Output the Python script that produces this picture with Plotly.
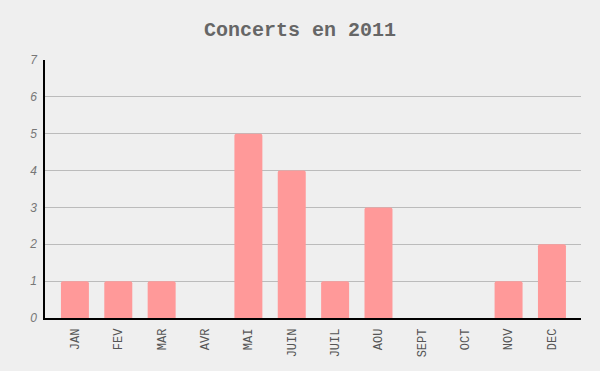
import plotly.graph_objects as go

months = ["JAN", "FEV", "MAR", "AVR", "MAI", "JUIN", "JUIL", "AOU", "SEPT", "OCT", "NOV", "DEC"]
concerts = [1, 1, 1, 0, 5, 4, 1, 3, 0, 0, 1, 2]
y_ticks = [0, 1, 2, 3, 4, 5, 6, 7]

fig = go.Figure()
fig.add_trace(go.Bar(
    x=list(range(len(months))),
    y=concerts,
    marker=dict(color="#ff9999", line=dict(width=0), cornerradius=2),
    width=0.645,
    hoverinfo="x+y",
))

fig.update_layout(
    width=600, height=371,
    paper_bgcolor="#efefef", plot_bgcolor="#efefef",
    margin=dict(l=45, r=19, t=60, b=53),
    title=dict(text="<b>Concerts en 2011</b>", x=0.5, xanchor="center", y=0.922, yanchor="middle",
               font=dict(family="Liberation Mono", size=20, color="#666")),
    showlegend=False,
    xaxis=dict(
        tickmode="array", tickvals=list(range(len(months))), ticktext=months,
        range=[-0.69, 11.67], tickangle=-90,
        tickfont=dict(family="Liberation Mono", size=12, color="#555"),
        showgrid=False, zeroline=False,
        showline=True, linecolor="#000", linewidth=1.5, ticks="", ticklabelstandoff=4,
        fixedrange=True,
    ),
    yaxis=dict(
        tickmode="array", tickvals=y_ticks, ticktext=[str(v) for v in y_ticks],
        range=[0, 7],
        tickfont=dict(family="Liberation Sans", size=12, color="#777", style="italic"),
        showgrid=True, gridcolor="#bbbbbb", gridwidth=1, zeroline=False,
        showline=True, linecolor="#000", linewidth=1.5, ticks="", ticklabelstandoff=4,
    ),
)

fig.write_html("out.html")
